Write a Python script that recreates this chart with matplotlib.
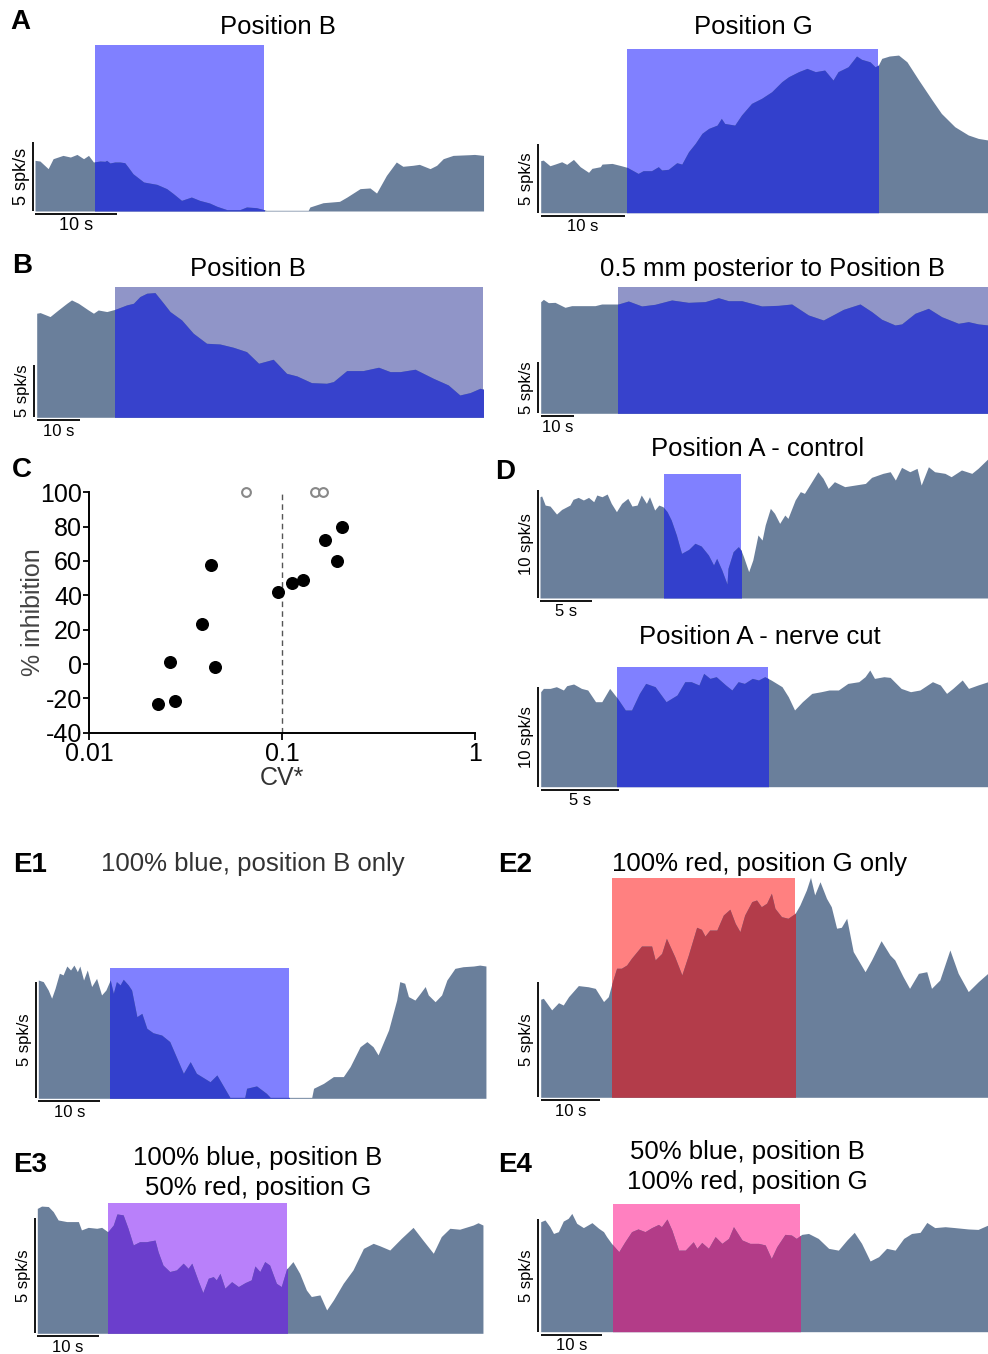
import matplotlib
matplotlib.use("Agg")
import matplotlib.pyplot as plt
from matplotlib.patches import Rectangle

plt.rcParams["font.family"] = ["Liberation Sans", "DejaVu Sans"]
plt.rcParams["axes.unicode_minus"] = False

W, H = 988, 1354

# ---- firing-rate traces: time (s), rate (spk/s) ----
a_posb_t = [0, 0.6, 1.6, 2.2, 3.4, 4.3, 5.1, 5.9, 6.5, 7.1, 7.9, 8.5, 8.7, 9.1, 9.7, 10.3, 10.9, 11.3, 11.9, 13.2,
            14.8, 16.0, 16.8, 17.8, 19.0, 20.0, 21.2, 22.1, 23.3, 24.9, 25.7, 26.9, 27.8, 28.1, 33.2, 33.4, 35.0,
            37.0, 37.9, 39.5, 40.7, 41.5, 42.7, 43.9, 44.7, 45.9, 46.7, 48.0, 48.8, 49.6, 50.8, 52.8, 53.4, 54.5]
a_posb_v = [3.67, 3.62, 3.07, 3.79, 4.03, 3.91, 4.1, 3.79, 4.03, 3.55, 3.62, 3.6, 3.67, 3.48, 3.55, 3.55, 3.5, 3.19,
            2.7, 2.1, 1.93, 1.62, 1.26, 0.77, 1.01, 0.77, 0.58, 0.34, 0.1, 0.1, 0.29, 0.24, 0.1, 0.05, 0.05, 0.29,
            0.6, 0.7, 1.01, 1.62, 1.67, 1.3, 2.58, 3.55, 3.24, 3.31, 3.38, 3.07, 3.31, 3.79, 4.03, 4.08, 4.1, 4.03]

a_posg_t = [0, 0.3, 1.1, 1.7, 2.5, 3.1, 3.9, 4.7, 5.7, 6.1, 7.1, 7.3, 8.5, 9.6, 10.3, 11.6, 12.2, 13.2, 14.0, 14.4,
            15.2, 16.2, 16.8, 17.6, 18.4, 19.2, 20.0, 21.0, 21.5, 21.9, 23.1, 23.9, 25.1, 26.3, 27.5, 28.7, 29.5,
            30.7, 31.7, 32.7, 33.8, 34.8, 35.4, 36.6, 37.6, 38.2, 39.2, 39.8, 40.2, 40.6, 41.5, 42.6, 43.6, 45.0,
            46.6, 47.7, 49.3, 50.9, 52.1, 53.3]
a_posg_v = [3.79, 3.83, 3.42, 3.54, 3.71, 3.52, 3.88, 3.35, 2.94, 3.23, 3.35, 3.54, 3.59, 3.42, 3.30, 2.86, 3.06,
            3.06, 3.35, 3.11, 3.16, 3.64, 3.54, 4.44, 5.05, 5.78, 6.14, 6.38, 6.87, 6.5, 6.38, 7.11, 7.96, 8.33,
            8.81, 9.54, 9.9, 10.27, 10.51, 10.27, 10.39, 9.66, 10.27, 10.63, 11.41, 11.17, 10.99, 10.63, 10.75,
            11.24, 11.41, 11.48, 10.99, 9.66, 8.2, 7.23, 6.26, 5.66, 5.41, 5.29]

b_posb_t = [0, 0.8, 3.1, 5.0, 7.0, 8.1, 9.7, 12.0, 13.2, 14.3, 16.3, 18.3, 20.9, 22.5, 24.0, 25.6, 27.5, 29.5, 31.0,
            33.7, 36.4, 39.5, 42.6, 45.7, 48.8, 51.6, 55.0, 58.1, 60.5, 63.9, 67.4, 69.0, 72.1, 75.9, 79.5, 82.2,
            84.5, 88.0, 92.2, 95.7, 98.4, 100.8, 103.1, 103.9]
b_posb_v = [9.94, 10.0, 9.62, 10.25, 10.89, 11.21, 10.89, 10.25, 9.94, 10.25, 10.1, 10.32, 10.73, 10.89, 11.53,
            11.85, 11.91, 10.89, 10.1, 9.3, 8.03, 7.07, 7.0, 6.69, 6.27, 5.16, 5.54, 4.2, 3.95, 3.31, 3.25, 3.41,
            4.46, 4.46, 4.78, 4.36, 4.36, 4.59, 3.73, 3.09, 2.13, 2.36, 2.77, 2.68]

b_post_t = [0, 0.8, 2.3, 4.3, 7.3, 9.3, 16.3, 18.3, 23.3, 26.3, 30.3, 34.3, 39.3, 44.3, 49.3, 53.3, 56.3, 60.3, 66.3,
            71.3, 75.3, 80.3, 84.8, 90.8, 95.8, 99.3, 102.3, 106.3, 108.3, 112.3, 116.3, 120.3, 125.3, 128.3,
            131.3, 134.2]
b_post_v = [10.8, 11.03, 10.71, 10.74, 10.26, 10.42, 10.42, 10.58, 10.58, 10.87, 10.39, 10.55, 10.97, 10.74, 10.81,
            11.19, 10.9, 10.9, 10.39, 10.45, 10.58, 9.52, 9.03, 10.06, 10.58, 9.84, 9.1, 8.55, 8.65, 9.68, 10.16,
            9.35, 8.71, 8.87, 8.65, 8.55]

d_ctrl_t = [0, 0.16, 0.5, 0.97, 1.6, 2.1, 2.9, 3.2, 3.7, 4.2, 4.7, 5.2, 5.5, 6.0, 6.5, 6.9, 7.4, 7.9, 8.5, 8.9, 9.4,
            9.8, 10.3, 10.6, 11.1, 11.5, 11.9, 12.3, 12.7, 13.2, 13.7, 14.4, 15.0, 15.6, 16.3, 16.8, 17.1, 17.6,
            18.1, 18.2, 18.7, 19.2, 19.45, 19.7, 20.2, 20.6, 21.1, 21.5, 21.8, 22.3, 22.7, 23.2, 23.7, 24.0, 24.7,
            25.2, 25.6, 26.4, 26.9, 27.4, 27.9, 28.5, 29.5, 30.5, 31.5, 32.1, 33.2, 33.9, 34.4, 35.0, 35.8, 36.5,
            36.9, 37.6, 38.2, 39.2, 39.8, 40.8, 41.8, 42.4, 42.9, 43.4]
d_ctrl_v = [9.35, 9.42, 8.58, 8.49, 7.75, 8.18, 8.58, 9.11, 9.29, 9.05, 9.29, 8.89, 9.51, 9.35, 9.6, 8.74, 7.97, 8.74,
            9.2, 8.49, 8.58, 9.51, 8.74, 9.35, 8.12, 8.58, 8.43, 7.97, 7.2, 5.82, 4.12, 4.49, 5.05, 4.8, 3.97, 3.05,
            3.66, 2.58, 1.29, 2.74, 4.28, 4.74, 4.43, 3.82, 2.43, 3.51, 5.82, 5.35, 6.74, 8.28, 7.82, 6.89, 7.66,
            7.35, 9.05, 9.82, 9.66, 10.89, 11.66, 11.05, 10.12, 10.74, 10.28, 10.43, 10.58, 11.14, 11.51, 11.66,
            10.89, 12.06, 11.66, 11.97, 10.43, 12.12, 11.66, 11.51, 11.2, 11.82, 11.51, 11.97, 12.43, 12.89]

d_cut_t = [0, 0.17, 0.6, 1.0, 1.45, 1.66, 2.1, 2.6, 3.0, 3.5, 3.9, 4.4, 4.9, 5.4, 5.8, 6.3, 6.7, 7.3, 8.0, 8.7, 9.2,
           9.6, 10.1, 10.4, 10.8, 11.2, 11.8, 12.2, 12.6, 13.0, 13.5, 13.9, 14.3, 14.7, 15.4, 15.8, 16.2, 16.7,
           17.3, 17.9, 18.4, 19.0, 19.6, 20.3, 20.7, 21.0, 21.3, 21.9, 22.3, 23.0, 23.6, 24.2, 25.0, 25.5, 25.9,
           26.3, 26.9, 27.3, 27.9, 28.55]
d_cut_v = [9.5, 9.83, 9.83, 10.0, 9.67, 10.1, 10.27, 9.83, 9.67, 8.5, 8.5, 9.83, 8.83, 7.67, 7.67, 9.33, 10.33, 10.0,
           8.5, 9.17, 10.5, 10.5, 10.17, 11.33, 10.83, 11.0, 10.17, 9.67, 10.5, 10.33, 10.83, 10.67, 11.0, 10.67,
           10.0, 9.0, 7.67, 8.5, 9.33, 9.5, 9.67, 9.67, 10.33, 10.5, 11.0, 11.67, 10.83, 11.0, 10.93, 9.83, 9.5,
           9.67, 10.5, 10.17, 9.33, 9.83, 10.67, 9.83, 10.17, 10.5]

e1_t = [0, 0.8, 1.6, 2.15, 2.7, 3.4, 4.0, 4.6, 5.2, 5.75, 6.3, 6.7, 7.3, 7.9, 8.6, 9.4, 10.2, 10.9, 11.6, 12.1, 12.6,
        13.2, 13.7, 14.5, 15.05, 15.9, 16.7, 17.5, 18.5, 19.9, 21.2, 23.4, 24.5, 25.5, 27.7, 28.8, 30.9, 33.3, 33.6,
        35.2, 36.8, 37.4, 44.1, 44.4, 46.0, 47.6, 49.2, 50.3, 51.9, 53.0, 54.0, 54.8, 56.5, 57.8, 58.3, 59.1, 59.7,
        60.75, 61.6, 62.4, 62.9, 64.0, 65.05, 65.9, 67.2, 68.5, 70.2, 71.2, 72.2]
e1_v = [5.07, 5.0, 4.64, 4.29, 4.71, 5.36, 5.29, 5.67, 5.5, 5.71, 5.43, 5.67, 5.07, 5.5, 4.79, 5.14, 4.43, 4.64, 5.07,
        4.5, 5.0, 4.86, 5.1, 4.86, 4.64, 3.5, 3.64, 3.0, 2.81, 2.71, 2.43, 1.07, 1.57, 1.07, 0.71, 1.0, 0.04, 0.04,
        0.43, 0.53, 0.21, 0.04, 0.04, 0.43, 0.64, 0.93, 0.93, 1.36, 2.21, 2.43, 2.21, 1.86, 2.93, 4.21, 5.0, 4.93,
        4.36, 4.21, 4.5, 4.79, 4.43, 4.14, 4.43, 5.07, 5.57, 5.64, 5.67, 5.71, 5.67]

e2_t = [0, 0.45, 1.85, 3.0, 3.8, 4.7, 6.35, 8.0, 9.2, 10.6, 11.4, 12.1, 12.8, 13.6, 14.5, 15.3, 17.0, 18.7, 19.3,
        20.4, 21.2, 22.6, 23.8, 24.9, 26.3, 27.1, 27.7, 28.5, 29.7, 30.8, 31.9, 32.8, 33.6, 34.4, 35.6, 36.4, 37.2,
        38.1, 38.9, 39.5, 40.6, 41.7, 42.9, 43.7, 44.8, 45.5, 46.2, 47.1, 48.2, 49.0, 49.9, 50.7, 51.6, 52.7, 54.7,
        55.8, 57.4, 58.9, 59.7, 61.1, 62.2, 63.7, 65.1, 65.9, 67.3, 69.0, 70.4, 72.1, 73.8, 75.4]
e2_v = [4.24, 4.28, 3.78, 4.09, 3.99, 4.35, 4.83, 4.78, 4.71, 4.14, 4.35, 5.0, 5.58, 5.58, 5.72, 6.01, 6.54, 6.54,
        5.94, 6.22, 6.87, 6.08, 5.29, 6.15, 7.35, 7.26, 6.97, 7.23, 7.23, 7.88, 8.13, 7.52, 7.16, 7.88, 8.46, 8.53,
        8.24, 8.39, 8.82, 8.17, 7.81, 7.74, 7.95, 8.31, 8.96, 9.51, 8.75, 9.32, 8.6, 8.24, 7.31, 7.35, 7.74, 6.3,
        5.43, 5.94, 6.77, 6.15, 5.94, 5.22, 4.71, 5.36, 5.43, 4.71, 5.07, 6.37, 5.36, 4.57, 5.0, 5.36]

e3_t = [0, 0.7, 1.8, 2.6, 3.4, 4.8, 6.7, 7.2, 8.3, 9.7, 10.5, 11.5, 12.4, 13.0, 14.0, 14.8, 15.65, 16.7, 17.8, 19.2,
        19.7, 20.5, 21.6, 22.7, 23.8, 24.6, 25.2, 26.3, 27.0, 27.9, 28.7, 29.2, 29.8, 30.6, 31.7, 32.8, 33.9, 34.9,
        35.5, 36.3, 37.1, 37.9, 39.0, 39.8, 40.65, 41.7, 42.8, 43.9, 44.7, 46.1, 47.2, 48.3, 49.9, 51.5, 53.2, 54.8,
        55.9, 57.5, 59.4, 61.3, 62.9, 64.6, 65.9, 67.3, 68.9, 71.1, 71.9, 72.7]
e3_v = [5.4, 5.5, 5.48, 5.26, 4.9, 4.83, 4.83, 4.47, 4.58, 4.54, 4.58, 4.39, 4.68, 5.16, 5.12, 4.54, 3.82, 3.96, 3.96,
        4.03, 3.53, 2.95, 2.67, 2.74, 3.03, 2.81, 3.03, 2.23, 1.76, 2.38, 2.45, 2.31, 2.59, 1.95, 2.23, 2.02, 2.19,
        2.31, 2.91, 2.67, 3.1, 2.95, 2.16, 2.02, 2.77, 3.1, 2.59, 1.87, 1.59, 1.66, 1.01, 1.44, 2.16, 2.74, 3.67,
        3.89, 3.78, 3.6, 4.11, 4.58, 4.03, 3.46, 4.18, 4.54, 4.5, 4.68, 4.78, 4.68]

e4_t = [0, 0.7, 1.5, 2.1, 2.9, 3.7, 4.5, 5.1, 5.9, 7.0, 8.4, 9.5, 10.3, 10.8, 11.6, 12.8, 13.8, 14.9, 15.95, 17.1,
        18.2, 19.3, 19.8, 20.7, 21.5, 22.6, 23.7, 25.0, 25.6, 26.4, 27.5, 28.6, 29.7, 30.8, 31.6, 33.0, 34.3, 35.7,
        36.8, 37.8, 38.7, 40.05, 41.1, 41.9, 42.8, 43.9, 45.5, 47.2, 48.8, 50.2, 51.4, 52.6, 54.0, 55.4, 56.7, 58.1,
        59.5, 60.8, 62.2, 63.3, 64.6, 66.3, 67.9, 70.1, 71.7, 73.3]
e4_v = [4.88, 4.96, 4.66, 4.36, 4.44, 4.91, 5.03, 5.25, 4.81, 4.62, 4.84, 4.59, 4.44, 4.22, 3.92, 3.55, 3.99, 4.44,
        4.56, 4.44, 4.62, 4.76, 4.66, 5.0, 4.51, 3.62, 3.62, 3.99, 3.7, 3.96, 3.7, 4.22, 3.92, 4.14, 4.66, 4.07,
        3.92, 3.92, 3.85, 3.25, 3.77, 4.32, 4.29, 4.14, 4.32, 4.36, 4.14, 3.7, 3.62, 4.07, 4.41, 3.92, 3.14, 3.33,
        3.7, 3.62, 4.14, 4.36, 4.41, 4.85, 4.62, 4.66, 4.62, 4.56, 4.54, 4.73]

# ---- panel C ----
cv_resp = [0.0228, 0.0262, 0.0278, 0.0385, 0.0427, 0.045, 0.0955, 0.1125, 0.1288, 0.168, 0.192, 0.205]
inh_resp = [-23.5, 1.0, -21.6, 23.1, 57.7, -1.8, 42.1, 47.2, 48.9, 72.2, 60.2, 80.0]
cv_open = [0.0649, 0.148, 0.163]
inh_open = [100, 100, 100]

TRACE = "#6a7f9b"
BLUE = ("#8080ff", "#3340cc")
LAV = ("#9095c8", "#3742cc")
RED = ("#ff8080", "#b33c4a")
PURPLE = ("#b980fa", "#6b3ecc")
PINK = ("#ff80c0", "#b33c88")

fig = plt.figure(figsize=(W / 100, H / 100), dpi=100)


def trace_panel(x0, base, pps, ppu, t, v, on, top, colors, ylab, xlab, xbar=10, ybar=5, fs=12):
    ymax = max(top, max(v))
    ax = fig.add_axes([x0 / W, 1 - base / H, t[-1] * pps / W, ymax * ppu / H])
    ax.set_xlim(0, t[-1])
    ax.set_ylim(0, ymax)
    ax.axis("off")
    rect = Rectangle((on[0], 0), on[1] - on[0], top, facecolor=colors[0], edgecolor="none", zorder=1)
    ax.add_patch(rect)
    ax.fill_between(t, v, 0, color=TRACE, lw=0, zorder=2)
    inner = ax.fill_between(t, v, 0, color=colors[1], lw=0, zorder=3)
    inner.set_clip_path(rect)
    dx, dy = 2.5 / pps, 3 / ppu
    ax.plot([-dx, -dx], [0, ybar], color="black", lw=1.3, clip_on=False, solid_capstyle="butt")
    ax.plot([0, xbar], [-dy, -dy], color="black", lw=1.3, clip_on=False, solid_capstyle="butt")
    ax.text(-14 / pps, ybar / 2, ylab, rotation=90, ha="center", va="center", fontsize=fs)
    ax.text(xbar / 2, -14 / ppu, xlab, ha="center", va="center", fontsize=fs)
    return ax


trace_panel(35, 211, 8.23, 13.8, a_posb_t, a_posb_v, (7.3, 27.8), 12.0, BLUE, "5 spk/s", "10 s", fs=13)
trace_panel(540.7, 212.7, 8.4, 13.73, a_posg_t, a_posg_v, (10.3, 40.1), 11.94, BLUE, "5 spk/s", "10 s")
trace_panel(36.7, 417.3, 4.3, 10.47, b_posb_t, b_posb_v, (18.3, 103.7), 12.42, LAV, "5 spk/s", "10 s")
trace_panel(540.7, 413.3, 3.333, 10.33, b_post_t, b_post_v, (23.3, 134.2), 12.26, LAV, "5 spk/s", "10 s")
trace_panel(540, 598, 10.33, 10.83, d_ctrl_t, d_ctrl_v, (12.0, 19.45), 11.45, BLUE, "10 spk/s", "5 s",
            xbar=5, ybar=10)
trace_panel(540.7, 786.7, 15.67, 10.0, d_cut_t, d_cut_v, (4.9, 14.5), 11.93, BLUE, "10 spk/s", "5 s",
            xbar=5, ybar=10)
trace_panel(38.3, 1098.3, 6.2, 23.33, e1_t, e1_v, (11.6, 40.5), 5.59, BLUE, "5 spk/s", "10 s")
trace_panel(540.7, 1097.3, 5.93, 23.13, e2_t, e2_v, (12.1, 42.9), 9.48, RED, "5 spk/s", "10 s")
trace_panel(37.3, 1333.3, 6.13, 23.13, e3_t, e3_v, (11.5, 40.8), 5.65, PURPLE, "5 spk/s", "10 s")
trace_panel(540.7, 1331.7, 6.1, 22.53, e4_t, e4_v, (11.9, 42.5), 5.67, PINK, "5 spk/s", "10 s")

# scatter panel C
axc = fig.add_axes([89 / W, 1 - 732.7 / H, 386 / W, 240.4 / H])
axc.set_xscale("log")
axc.set_xlim(0.01, 1)
axc.set_ylim(-40, 100)
axc.plot([0.1, 0.1], [-40, 99], ls=(0, (4, 3)), color="#555555", lw=1)
axc.scatter(cv_resp, inh_resp, s=70, color="black", zorder=3, clip_on=False)
axc.scatter(cv_open, inh_open, s=40, facecolor="white", edgecolor="#888888", lw=1.5, zorder=3, clip_on=False)
axc.set_xticks([0.01, 0.1, 1])
axc.set_xticklabels(["0.01", "0.1", "1"])
axc.minorticks_off()
axc.set_yticks(range(-40, 101, 20))
axc.tick_params(labelsize=18, width=1.3, length=4, pad=1)
axc.tick_params(axis="x", length=5, pad=2)
for s in ("top", "right"):
    axc.spines[s].set_visible(False)
for s in ("left", "bottom"):
    axc.spines[s].set_linewidth(1.4)
axc.set_xlabel("CV*", fontsize=18, color="#333333", labelpad=0)
axc.set_ylabel("% inhibition", fontsize=18, color="#444444")
axc.yaxis.set_label_coords(-0.115, 0.5)


def ftext(x, y, s, **kw):
    fig.text(x / W, 1 - y / H, s, ha="center", va="center", **kw)


for x, y, s in [(20, 22, "A"), (22, 266, "B"), (22, 470, "C"), (505, 472, "D"),
                (30, 865, "E1"), (515, 865, "E2"), (30, 1165, "E3"), (515, 1165, "E4")]:
    ftext(x, y, s, fontsize=20, fontweight="bold")

ftext(278, 27, "Position B", fontsize=18.5)
ftext(753, 27, "Position G", fontsize=18.5)
ftext(248, 269, "Position B", fontsize=18.5)
ftext(772, 269, "0.5 mm posterior to Position B", fontsize=18.5)
ftext(758, 449, "Position A - control", fontsize=18.5)
ftext(760, 637, "Position A - nerve cut", fontsize=18.5)
ftext(253, 864, "100% blue, position B only", fontsize=18.5, color="#333333")
ftext(759, 864, "100% red, position G only", fontsize=18.5)
ftext(258, 1158, "100% blue, position B", fontsize=18.5)
ftext(258, 1188, "50% red, position G", fontsize=18.5)
ftext(747, 1152, "50% blue, position B", fontsize=18.5)
ftext(747, 1182, "100% red, position G", fontsize=18.5)

fig.savefig("out.png", dpi=100)
